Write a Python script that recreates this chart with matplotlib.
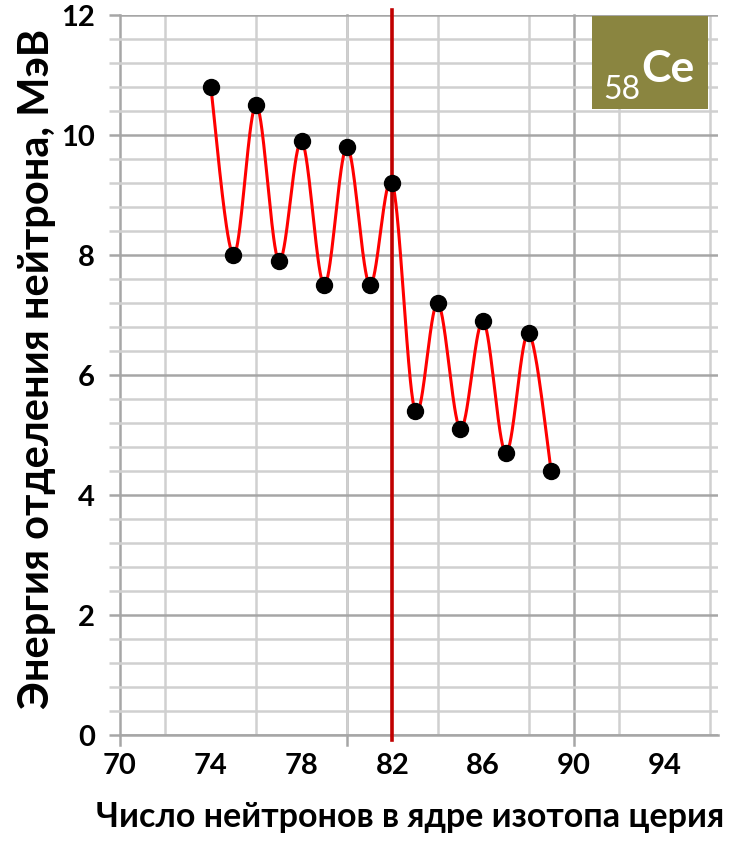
import numpy as np
import matplotlib
matplotlib.use("Agg")
import matplotlib.pyplot as plt
from matplotlib.patches import Rectangle

# ---- data ----
neutrons = [74, 75, 76, 77, 78, 79, 80, 81, 82, 83, 84, 85, 86, 87, 88, 89]
energy = [10.8, 8.0, 10.5, 7.9, 9.9, 7.5, 9.8, 7.5, 9.2, 5.4, 7.2, 5.1, 6.9, 4.7, 6.7, 4.4]
x_ticks = [70, 74, 78, 82, 86, 90, 94]
y_ticks = [0, 2, 4, 6, 8, 10, 12]
magic_n = 82
element_label = "Ce"
element_z = "58"
x_label = "Число нейтронов в ядре изотопа церия"
y_label = "Энергия отделения нейтрона, МэВ"


def smooth(xs, ys, n=40):
    """Excel-like smoothed line: cubic Bezier segments with Catmull-Rom controls."""
    P = np.column_stack([xs, ys]).astype(float)
    Pe = np.vstack([P[0], P, P[-1]])
    out = []
    t = np.linspace(0, 1, n)[:, None]
    for i in range(len(P) - 1):
        p0, p1, p2, p3 = Pe[i], Pe[i + 1], Pe[i + 2], Pe[i + 3]
        c1 = p1 + (p2 - p0) / 6.0
        c2 = p2 - (p3 - p1) / 6.0
        seg = ((1 - t) ** 3) * p1 + 3 * ((1 - t) ** 2) * t * c1 + 3 * (1 - t) * t ** 2 * c2 + t ** 3 * p2
        out.append(seg if i == 0 else seg[1:])
    s = np.vstack(out)
    return s[:, 0], s[:, 1]


W, H = 742, 841
fig = plt.figure(figsize=(W / 100, H / 100), dpi=100)
ax = fig.add_axes([120 / W, (H - 735) / H, (718 - 120) / W, 720 / H])

ax.set_xlim(70, 96.35)
ax.set_ylim(0, 12)

light = "#d0d0d0"
dark = "#a6a6a6"
fam = ["Lato", "DejaVu Sans"]

# y grid: minor every 0.4, major every 2
ax.set_yticks(y_ticks)
ax.set_yticks(np.arange(0, 12.01, 0.4), minor=True)
ax.grid(True, which="major", axis="y", color=dark, lw=1.8, zorder=0)
ax.grid(True, which="minor", axis="y", color=light, lw=1.8, zorder=0)
ax.tick_params(axis="y", which="major", length=8, width=1.8, color=dark, pad=10)
ax.tick_params(axis="y", which="minor", length=8, width=1.8, color=light)

# x grid: light every 2, dark every 10
ax.set_xticks(x_ticks)
ax.set_xticks(np.arange(70, 97, 2), minor=True)
ax.grid(True, which="minor", axis="x", color=light, lw=1.8, zorder=0)
ax.tick_params(axis="x", which="both", length=0, pad=13)
for xv in (70, 80, 90):
    ax.axvline(xv, ymin=-0.014, ymax=1, color=dark, lw=1.8, zorder=0.5, clip_on=False)

for lab in ax.get_xticklabels() + ax.get_yticklabels():
    lab.set_fontfamily(fam)
    lab.set_fontweight("bold")
    lab.set_fontsize(21)
    lab.set_color("black")

for s in ("top", "right", "left"):
    ax.spines[s].set_visible(False)
ax.spines["bottom"].set_color(dark)
ax.spines["bottom"].set_linewidth(1.8)

# curve and points
sx, sy = smooth(neutrons, energy)
ax.plot(sx, sy, color="#ff0000", lw=2.2, zorder=3, solid_capstyle="round")
ax.axvline(magic_n, ymin=-0.007, ymax=1.007, color="#c00000", lw=2.6, zorder=3.5, clip_on=False)
ax.plot(neutrons, energy, "o", color="black", ms=11.5, zorder=4)

# element box
ax.add_patch(Rectangle((0.789, 0.869), 0.194, 0.13, transform=ax.transAxes,
                       facecolor="#8a8540", edgecolor="none", zorder=5, clip_on=False))
ax.text(0.808, 0.883, element_z, transform=ax.transAxes, color="white",
        fontsize=23, family=fam, va="baseline", ha="left", zorder=6)
ax.text(0.872, 0.907, element_label, transform=ax.transAxes, color="white",
        fontsize=32, weight="bold", family=fam, va="baseline", ha="left", zorder=6)

# axis labels
ax.set_xlabel(x_label, family=fam, weight="bold", fontsize=24.5, va="center")
ax.xaxis.set_label_coords(0.485, -0.114)
ax.set_ylabel(y_label, family=fam, weight="bold", fontsize=30, va="center")
ax.yaxis.set_label_coords(-0.139, 0.509)

fig.savefig("out.png", dpi=100)
